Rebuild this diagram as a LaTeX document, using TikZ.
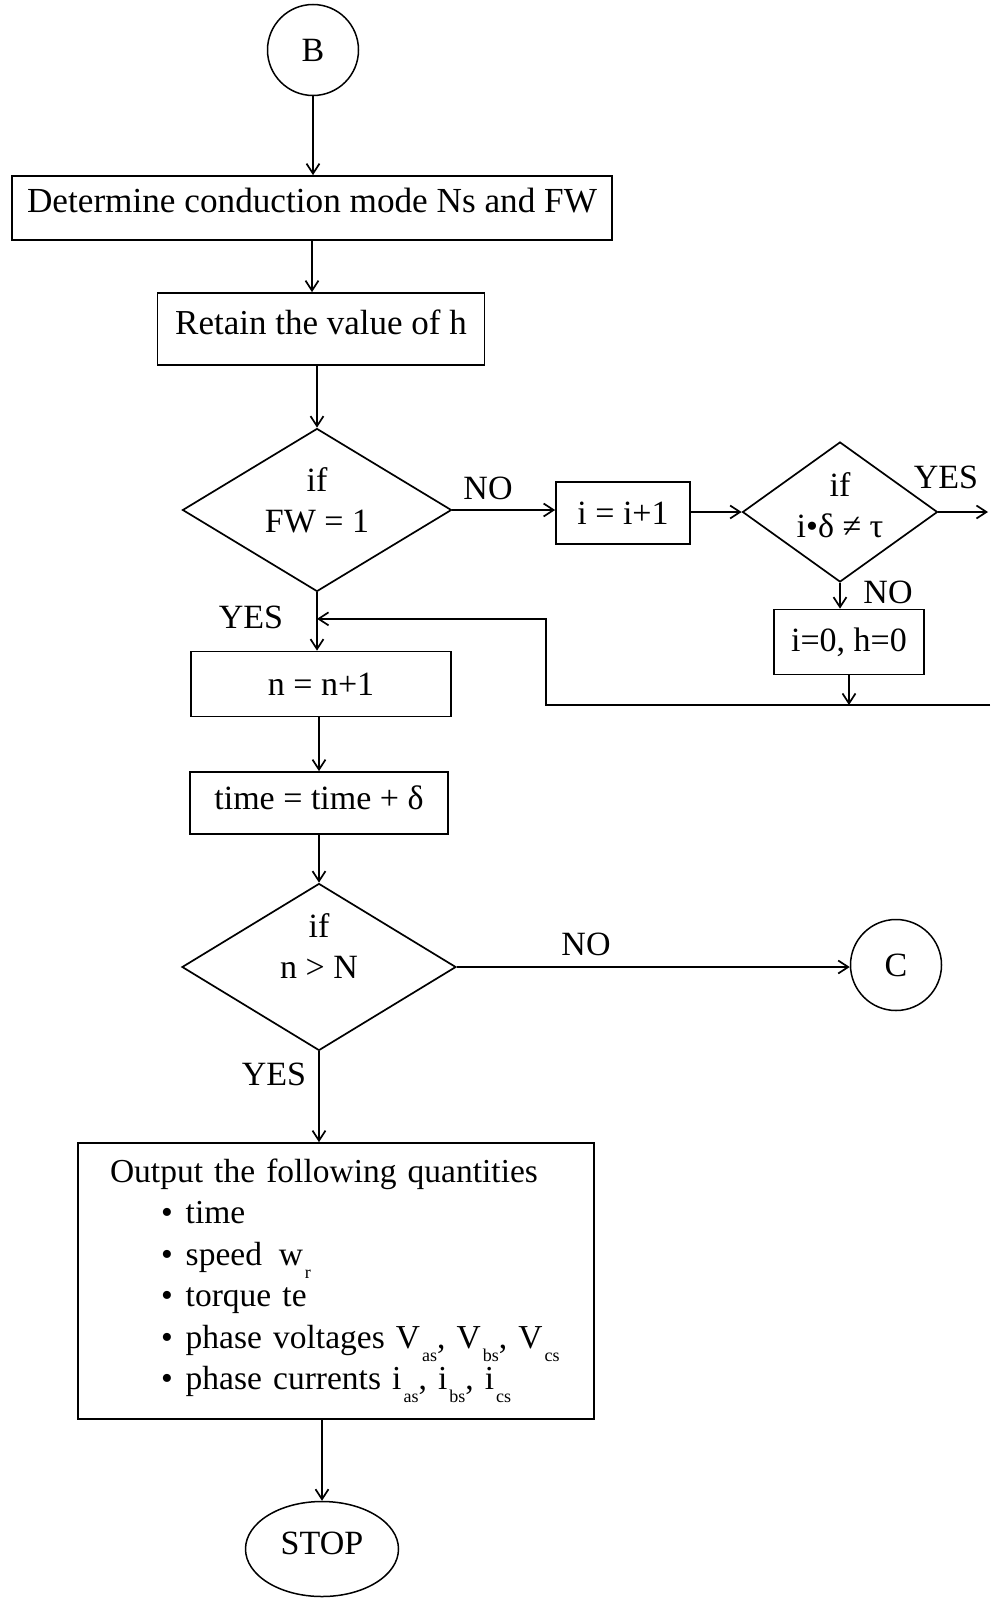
\documentclass[tikz,border=0pt]{standalone}
\usepackage{fontspec}
\setmainfont{Liberation Serif}
\usetikzlibrary{shapes.geometric,arrows.meta}
\newcommand{\lsub}[1]{\hspace{2pt}\raisebox{-13pt}{\fontsize{18}{18}\selectfont #1}}
\newcommand{\dtext}[3]{\raisebox{#1}[0pt][0pt]{\begin{tabular}{@{}c@{}}#2\\#3\end{tabular}}}
\newcommand{\bul}{\hspace*{75pt}•\hspace{13pt}}
\begin{document}
\begin{tikzpicture}[x=1pt,y=-1pt,
  every node/.style={font=\fontsize{34}{41.5}\selectfont},
  box/.style={draw,line width=1.7pt,inner sep=0pt,align=center},
  dia/.style={draw,shape=diamond,line width=1.7pt,inner sep=0pt,aspect=1},
  circ/.style={draw,circle,line width=1.5pt,inner sep=0pt,minimum size=91pt},
  lbl/.style={inner sep=0pt},
  arr/.style={line width=1.7pt,-{Straight Barb[length=10pt,width=13pt]}},
  ln/.style={line width=1.7pt}]
\useasboundingbox (0,0) rectangle (990,1600);

% nodes
\node[circ] (B) at (313,50) {B};
\node[box,minimum width=600pt,minimum height=64pt,text depth=16pt,font=\fontsize{35.2}{42}\selectfont] (det) at (312,208) {Determine conduction mode Ns and FW};
\node[box,minimum width=327pt,minimum height=72pt,text depth=13pt,font=\fontsize{35}{42}\selectfont] (ret) at (321,329) {Retain the value of h};
\node[dia,minimum width=269pt,minimum height=163pt] (d1) at (317,510) {\dtext{0pt}{if}{FW = 1}};
\node[box,minimum width=134pt,minimum height=62pt] (inc) at (623,513) {i = i+1};
\node[dia,minimum width=195pt,minimum height=140pt] (d2) at (840,512) {\dtext{-3pt}{if}{i•δ ≠ τ}};
\node[box,minimum width=150pt,minimum height=65pt] (rst) at (849,642) {i=0, h=0};
\node[box,minimum width=260pt,minimum height=65pt] (nn) at (321,684) {n = n+1};
\node[box,minimum width=258pt,minimum height=62pt,text depth=11pt] (tm) at (319,803) {time = time + δ};
\node[dia,minimum width=274pt,minimum height=167pt] (d3) at (319,967) {\dtext{11pt}{if}{n > N}};
\node[circ] (C) at (896,965) {C};
\node[box,minimum width=516pt,minimum height=276pt,text width=500pt,align=left,inner xsep=8pt,font=\fontsize{33.5}{41.5}\selectfont] (out) at (336,1281) {\hspace*{24pt}Output the following quantities\\
\bul time\\
\bul speed\, w\lsub{r}\\
\bul torque te\\
\bul phase voltages V\lsub{as}, V\lsub{bs}, V\lsub{cs}\\
\bul phase currents i\lsub{as}, i\lsub{bs}, i\lsub{cs}};
\node[draw,ellipse,line width=1.5pt,inner sep=0pt,minimum width=153pt,minimum height=95pt,text depth=11pt] (stop) at (322,1549) {STOP};

% labels
\node[lbl] (no1) at (488,488) {NO};
\node[lbl] (yes2) at (946,477) {YES};
\node[lbl] (no2) at (888,592) {NO};
\node[lbl] (yes1) at (251,617) {YES};
\node[lbl] (no3) at (586,944) {NO};
\node[lbl] (yes3) at (274,1074) {YES};

% free ends
\coordinate (yesEnd) at (988,512);
\coordinate (loopR) at (990,705);
\coordinate (loopC) at (546,705);
\coordinate (jn) at ([yshift=-26.5pt]d1.south);

% connectors
\draw[arr] (B.south) -- (B.south |- det.north);
\draw[arr] (det.south) -- (det.south |- ret.north);
\draw[arr] (d1.north |- ret.south) -- (d1.north);
\draw[arr] (d1.east) -- (d1.east -| inc.west);
\draw[arr] (inc.east |- d2.west) -- (d2.west);
\draw[arr] (d2.east) -- (yesEnd);
\draw[arr] (d2.south) -- (d2.south |- rst.north);
\draw[arr] (rst.south) -- (rst.south |- loopR);
\draw[arr] (loopR) -- (loopC) |- (jn);
\draw[arr] (d1.south) -- (d1.south |- nn.north);
\draw[arr] (tm.north |- nn.south) -- (tm.north);
\draw[arr] (d3.north |- tm.south) -- (d3.north);
\draw[arr] (d3.east) -- (d3.east -| C.west);
\draw[arr] (d3.south) -- (d3.south |- out.north);
\draw[arr] (stop.north |- out.south) -- (stop.north);
\end{tikzpicture}
\end{document}
